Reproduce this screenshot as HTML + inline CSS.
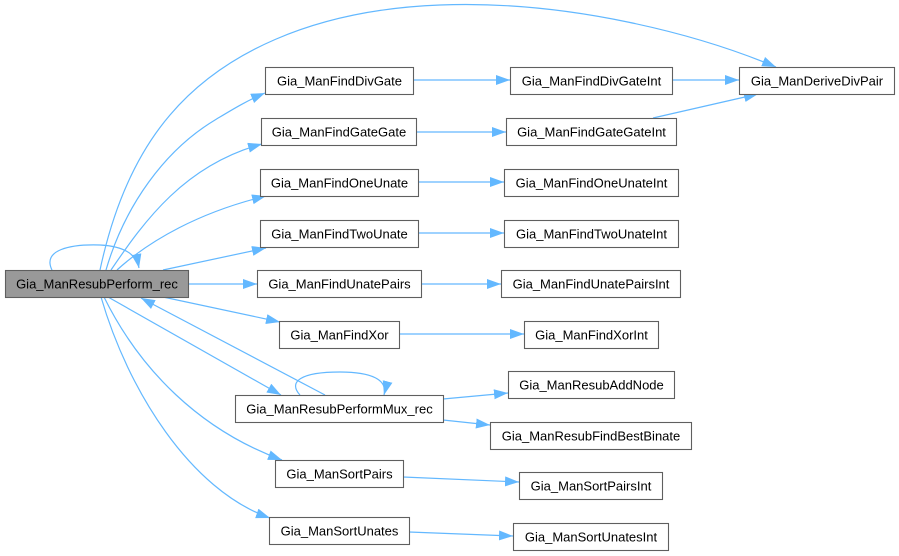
<!DOCTYPE html>
<html><head><meta charset="utf-8"><style>
html,body{margin:0;padding:0;background:#fff;}
svg{display:block;}
text{font-family:"Liberation Sans",Arial,sans-serif;font-size:13px;fill:#000;text-anchor:middle;}
.n{fill:#fff;stroke:#5f5f5f;stroke-width:1.1;}
.e{fill:none;stroke:#63b8ff;stroke-width:1.2;marker-end:url(#ah);}
</style></head><body>
<svg width="899" height="556" viewBox="0 0 899 556" xmlns="http://www.w3.org/2000/svg">
<defs>
<marker id="ah" markerUnits="userSpaceOnUse" markerWidth="15" markerHeight="11" refX="14" refY="5" orient="auto">
<path d="M0,0 L14,5 L0,10 z" fill="#63b8ff"/>
</marker>
</defs>

<!-- edges -->
<path class="e" d="M100,270 C115,200 140,150 170,115 C221,55 310,10 440,5 C570,0 700,35 776,67"/>
<path class="e" d="M106,270 C125,205 165,150 215,120 C230,111 246,101 265,93"/>
<path class="e" d="M111,270 C145,220 185,165 262,144"/>
<path class="e" d="M117,270 C150,240 200,212 266,196"/>
<path class="e" d="M163,270 L266,248"/>
<path class="e" d="M52,270 C42,250 70,244 100,245 C120,246 136,252 139,268"/>
<path class="e" d="M188,284 L257,284"/>
<path class="e" d="M163,297 L280,322"/>
<path class="e" d="M325,395 L141,298"/>
<path class="e" d="M108,297 L281,395"/>
<path class="e" d="M104,297 C140,370 200,430 282,460"/>
<path class="e" d="M101,297 C128,390 190,490 270,518"/>

<path class="e" d="M413,80 L510,80"/>
<path class="e" d="M672,80 L739,80"/>
<path class="e" d="M417,132 L506,132"/>
<path class="e" d="M653,118 L758,94"/>
<path class="e" d="M418,182 L504,182"/>
<path class="e" d="M418,233 L504,233"/>
<path class="e" d="M421,284 L501,284"/>
<path class="e" d="M399,334 L524,334"/>
<path class="e" d="M443,399 L508,393"/>
<path class="e" d="M443,420 L490,425"/>
<path class="e" d="M300,395 C288,382 300,372 340,372 C372,372 388,380 384,395"/>
<path class="e" d="M403,477 L519,482"/>
<path class="e" d="M409,532 L513,536"/>

<!-- nodes -->
<rect x="5.5" y="270.5" width="183" height="27" fill="#999" stroke="#5f5f5f" stroke-width="1.1"/>
<text x="97" y="288.5">Gia_ManResubPerform_rec</text>

<rect class="n" x="265.5" y="67.5" width="148" height="27"/>
<text x="339.5" y="85.5">Gia_ManFindDivGate</text>
<rect class="n" x="261.5" y="118.5" width="155" height="27"/>
<text x="339" y="136.5">Gia_ManFindGateGate</text>
<rect class="n" x="260.5" y="169.5" width="158" height="27"/>
<text x="339.5" y="187.5">Gia_ManFindOneUnate</text>
<rect class="n" x="260.5" y="220.5" width="158" height="27"/>
<text x="339.5" y="238.5">Gia_ManFindTwoUnate</text>
<rect class="n" x="257.5" y="270.5" width="164" height="27"/>
<text x="339.5" y="288.5">Gia_ManFindUnatePairs</text>
<rect class="n" x="279.5" y="321.5" width="120" height="27"/>
<text x="339.5" y="339.5">Gia_ManFindXor</text>
<rect class="n" x="235.5" y="395.5" width="208" height="27"/>
<text x="339.5" y="413.5">Gia_ManResubPerformMux_rec</text>
<rect class="n" x="275.5" y="460.5" width="128" height="27"/>
<text x="339.5" y="478.5">Gia_ManSortPairs</text>
<rect class="n" x="269.5" y="517.5" width="140" height="27"/>
<text x="339.5" y="535.5">Gia_ManSortUnates</text>

<rect class="n" x="510.5" y="67.5" width="162" height="27"/>
<text x="591.5" y="85.5">Gia_ManFindDivGateInt</text>
<rect class="n" x="739.5" y="67.5" width="155" height="27"/>
<text x="817" y="85.5">Gia_ManDeriveDivPair</text>
<rect class="n" x="506.5" y="118.5" width="170" height="27"/>
<text x="591.5" y="136.5">Gia_ManFindGateGateInt</text>
<rect class="n" x="504.5" y="169.5" width="174" height="27"/>
<text x="591.5" y="187.5">Gia_ManFindOneUnateInt</text>
<rect class="n" x="504.5" y="220.5" width="174" height="27"/>
<text x="591.5" y="238.5">Gia_ManFindTwoUnateInt</text>
<rect class="n" x="501.5" y="270.5" width="179" height="27"/>
<text x="591" y="288.5">Gia_ManFindUnatePairsInt</text>
<rect class="n" x="524.5" y="321.5" width="134" height="27"/>
<text x="591.5" y="339.5">Gia_ManFindXorInt</text>
<rect class="n" x="508.5" y="371.5" width="166" height="27"/>
<text x="591.5" y="389.5">Gia_ManResubAddNode</text>
<rect class="n" x="490.5" y="422.5" width="201" height="27"/>
<text x="591" y="440.5">Gia_ManResubFindBestBinate</text>
<rect class="n" x="519.5" y="472.5" width="143" height="27"/>
<text x="591" y="490.5">Gia_ManSortPairsInt</text>
<rect class="n" x="513.5" y="523.5" width="155" height="27"/>
<text x="591" y="541.5">Gia_ManSortUnatesInt</text>
</svg>
</body></html>
